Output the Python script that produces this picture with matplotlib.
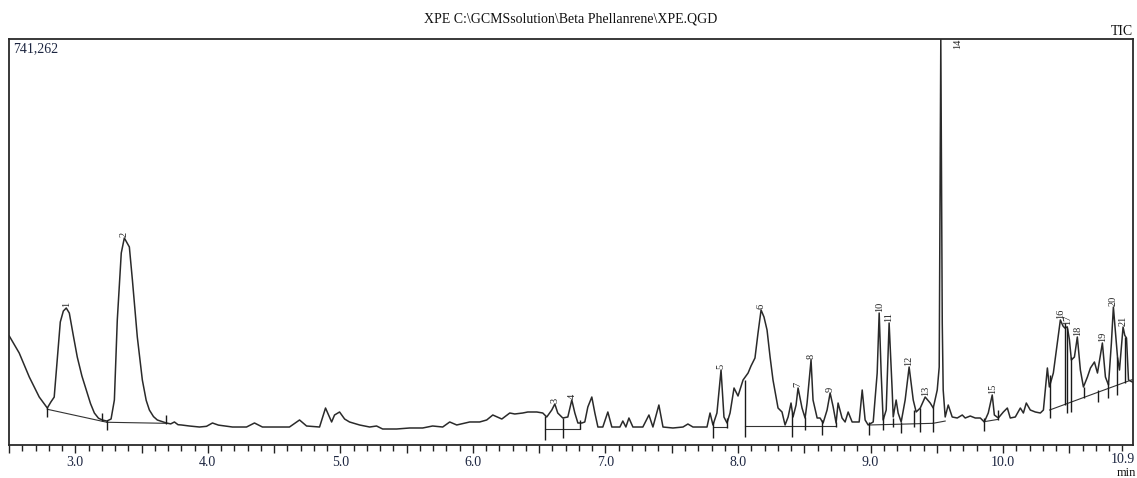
import matplotlib
matplotlib.use("Agg")
import matplotlib.pyplot as plt
from matplotlib.ticker import FixedLocator, FixedFormatter, MultipleLocator
import matplotlib.transforms as mtransforms

# ---------------- data ----------------
title_text = "XPE C:\\GCMSsolution\\Beta Phellanrene\\XPE.QGD"
full_scale = "741,262"

rt_min = [
    2.502, 2.577, 2.653, 2.728, 2.789, 2.816, 2.841, 2.864, 2.887, 2.910, 2.932, 2.955,
    2.985, 3.015, 3.050, 3.083, 3.115, 3.144, 3.175, 3.204, 3.238, 3.270, 3.295, 3.317,
    3.347, 3.370, 3.395, 3.408, 3.431, 3.468, 3.506, 3.535, 3.559, 3.590, 3.619, 3.687,
    3.720, 3.748, 3.775, 3.801, 3.861, 3.937, 3.990, 4.035, 4.080, 4.186, 4.292, 4.352,
    4.412, 4.541, 4.616, 4.692, 4.745, 4.843, 4.888, 4.934, 4.956, 4.994, 5.032, 5.069,
    5.145, 5.221, 5.273, 5.319, 5.424, 5.523, 5.621, 5.696, 5.772, 5.825, 5.878, 5.976,
    6.051, 6.104, 6.150, 6.218, 6.278, 6.316, 6.376, 6.414, 6.482, 6.527, 6.557, 6.595,
    6.618, 6.640, 6.678, 6.716, 6.746, 6.769, 6.792, 6.822, 6.844, 6.867, 6.897, 6.920,
    6.943, 6.980, 7.018, 7.048, 7.109, 7.131, 7.154, 7.177, 7.207, 7.282, 7.328, 7.358,
    7.403, 7.434, 7.509, 7.585, 7.622, 7.660, 7.766, 7.789, 7.811, 7.841, 7.872, 7.894,
    7.917, 7.940, 7.970, 8.000, 8.038, 8.076, 8.098, 8.128, 8.151, 8.174, 8.196, 8.219,
    8.242, 8.264, 8.302, 8.332, 8.355, 8.378, 8.400, 8.415, 8.438, 8.453, 8.483, 8.506,
    8.521, 8.551, 8.566, 8.597, 8.619, 8.642, 8.672, 8.695, 8.718, 8.740, 8.755, 8.785,
    8.808, 8.831, 8.861, 8.914, 8.937, 8.959, 8.982, 9.020, 9.050, 9.065, 9.080, 9.095,
    9.118, 9.140, 9.163, 9.171, 9.193, 9.208, 9.231, 9.261, 9.291, 9.322, 9.344, 9.375,
    9.412, 9.450, 9.473, 9.503, 9.518, 9.530, 9.541, 9.548, 9.563, 9.586, 9.616, 9.654,
    9.692, 9.714, 9.752, 9.790, 9.828, 9.858, 9.888, 9.918, 9.934, 9.964, 10.002, 10.032,
    10.054, 10.092, 10.130, 10.153, 10.175, 10.205, 10.243, 10.281, 10.304, 10.334, 10.349, 10.379,
    10.409, 10.432, 10.452, 10.466, 10.484, 10.500, 10.515, 10.538, 10.560, 10.583, 10.606, 10.636,
    10.659, 10.689, 10.712, 10.749, 10.772, 10.795, 10.817, 10.832, 10.863, 10.878, 10.905, 10.918,
    10.931, 10.946, 10.976,
]
rel_intensity = [  # % of full scale (741,262 counts)
    26.85, 22.66, 16.75, 11.82, 9.11, 10.60, 11.80, 20.90, 30.30, 33.00, 33.74, 32.50,
    27.00, 21.67, 17.00, 13.55, 10.20, 7.88, 6.60, 6.16, 5.90, 6.40, 11.08, 30.79,
    47.29, 50.99, 49.50, 48.77, 40.64, 26.60, 16.01, 11.00, 8.62, 7.00, 6.16, 5.42,
    5.20, 5.67, 5.00, 4.93, 4.68, 4.43, 4.60, 5.42, 4.90, 4.43, 4.43, 5.42,
    4.43, 4.43, 4.43, 6.16, 4.68, 4.43, 9.11, 5.67, 7.39, 8.13, 6.40, 5.67,
    4.93, 4.43, 4.68, 3.94, 3.94, 4.19, 4.19, 4.68, 4.43, 5.67, 4.93, 5.67,
    5.67, 6.16, 7.39, 6.40, 7.88, 7.64, 7.88, 8.13, 8.13, 7.88, 6.90, 8.62,
    10.10, 7.88, 6.65, 6.90, 11.08, 7.88, 5.42, 5.42, 5.67, 9.36, 11.82, 7.88,
    4.43, 4.43, 8.13, 4.43, 4.43, 5.91, 4.43, 6.65, 4.43, 4.43, 7.39, 4.43,
    9.85, 4.43, 4.19, 4.43, 5.17, 4.43, 4.43, 7.88, 4.93, 7.88, 18.47, 6.90,
    5.42, 7.88, 14.04, 12.07, 16.01, 17.73, 19.46, 21.43, 27.59, 33.25, 31.53, 28.33,
    21.67, 16.01, 9.11, 8.13, 4.93, 6.90, 10.34, 6.90, 9.85, 14.04, 9.11, 6.65,
    10.34, 20.94, 11.08, 6.65, 6.65, 5.42, 8.62, 12.81, 9.36, 5.42, 10.34, 6.65,
    5.67, 8.13, 5.67, 5.67, 13.55, 6.16, 4.93, 5.67, 17.73, 32.51, 17.73, 6.16,
    8.62, 30.05, 13.55, 6.90, 11.08, 7.88, 5.67, 11.08, 19.21, 11.08, 8.13, 9.11,
    11.82, 10.34, 9.11, 13.55, 19.21, 100.0, 30.00, 13.55, 6.90, 9.85, 6.90, 6.65,
    7.39, 6.65, 7.14, 6.65, 6.65, 5.67, 7.88, 12.32, 7.39, 6.65, 8.13, 9.11,
    6.65, 6.90, 9.11, 7.88, 10.34, 8.62, 8.13, 7.88, 8.62, 18.97, 14.29, 17.73,
    25.12, 30.79, 29.30, 28.80, 29.10, 26.00, 20.94, 21.67, 26.60, 18.47, 14.29, 16.75,
    18.97, 20.44, 17.73, 25.12, 16.75, 14.78, 25.12, 33.99, 21.67, 18.47, 29.06, 27.00,
    26.35, 16.01, 15.50,
]

peak_ids = ["1", "2", "3", "4", "5", "6", "7", "8", "9", "10", "11",
            "12", "13", "14", "15", "16", "17", "18", "19", "20", "21"]
peak_rt = [2.932, 3.370, 6.618, 6.746, 7.872, 8.174, 8.453, 8.551, 8.695, 9.065, 9.140,
           9.291, 9.412, 9.530, 9.918, 10.432, 10.484, 10.560, 10.749, 10.832, 10.908]
peak_top = [33.74, 50.99, 10.10, 11.08, 18.47, 33.25, 14.04, 20.94, 12.81, 32.51, 30.05,
            19.21, 11.82, 100.0, 12.32, 30.79, 29.10, 26.60, 25.12, 33.99, 29.06]

# integration baselines: start rt, start %, end rt, end %
base_t0 = [2.789, 3.238, 6.542, 6.681, 7.811, 8.053, 8.355, 8.992, 9.471, 9.858, 10.351]
base_i0 = [8.80, 5.60, 3.94, 3.94, 4.43, 4.68, 4.56, 4.93, 5.34, 5.75, 8.62]
base_t1 = [3.238, 3.687, 6.681, 6.807, 7.917, 8.355, 8.740, 9.471, 9.563, 9.964, 10.981]
base_i1 = [5.60, 5.34, 3.94, 3.94, 4.43, 4.68, 4.56, 5.34, 5.90, 6.32, 16.18]

# peak start / end / drop marks: rt, low %, high %
mark_rt = [2.789, 3.204, 3.238, 3.687, 6.542, 6.681, 6.807, 7.811, 7.917, 8.053,
           8.410, 8.506, 8.632, 8.740, 8.992, 9.093, 9.173, 9.231, 9.329, 9.375,
           9.471, 9.858, 9.964, 10.351, 10.465, 10.483, 10.513, 10.608, 10.714, 10.793,
           10.861, 10.918]
mark_lo = [6.90, 5.90, 3.69, 5.17, 1.23, 1.70, 4.00, 1.72, 4.19, 1.97,
           2.00, 3.69, 2.46, 4.50, 2.46, 3.69, 4.40, 2.87, 4.50, 3.28,
           3.28, 3.53, 6.16, 6.57, 9.85, 7.90, 8.20, 11.50, 10.70, 11.60,
           12.30, 15.20]
mark_hi = [9.43, 8.00, 6.16, 7.39, 7.10, 6.65, 6.20, 5.67, 6.65, 16.00,
           7.88, 6.97, 6.16, 5.75, 5.75, 6.97, 6.57, 5.75, 8.62, 9.03,
           9.43, 6.57, 8.62, 17.24, 30.00, 28.80, 21.70, 14.40, 13.50, 15.30,
           21.70, 26.70]

tick_rt = [2.5, 3.0, 3.5, 4.0, 4.5, 5.0, 5.5, 6.0, 6.5, 7.0, 7.5, 8.0, 8.5, 9.0, 9.5, 10.0, 10.5]
tick_text = ["", "3.0", "", "4.0", "", "5.0", "", "6.0", "", "7.0", "", "8.0", "", "9.0", "", "10.0", ""]
end_rt = 10.9
end_text = "10.9"

# ---------------- figure ----------------
W, H = 1137, 478
plt.rcParams["font.family"] = ["Liberation Serif", "DejaVu Serif"]
fig = plt.figure(figsize=(W / 100, H / 100), dpi=100)
ax = fig.add_axes([9 / W, 33 / H, 1124 / W, 406 / H])

line_col = "#2a2a2a"
ax.plot(rt_min, rel_intensity, color=line_col, lw=1.1, solid_joinstyle="round")

for t0, i0, t1, i1 in zip(base_t0, base_i0, base_t1, base_i1):
    ax.plot([t0, t1], [i0, i1], color="#333333", lw=0.8)
ax.vlines(mark_rt, mark_lo, mark_hi, color="#1a1a1a", lw=1.0)

for pid, rt, top in zip(peak_ids, peak_rt, peak_top):
    if top >= 99:
        ax.annotate(pid, (rt, top), xytext=(12, 0), textcoords="offset points",
                    rotation=90, ha="center", va="top", fontsize=7.5, color="#222222")
    else:
        ax.annotate(pid, (rt, top), xytext=(0, 1), textcoords="offset points",
                    rotation=90, ha="center", va="bottom", fontsize=7.5, color="#222222")

ax.set_xlim(2.5, 10.98)
ax.set_ylim(0, 100)
ax.set_yticks([])

ax.xaxis.set_major_locator(FixedLocator(tick_rt))
ax.xaxis.set_major_formatter(FixedFormatter(tick_text))
ax.xaxis.set_minor_locator(MultipleLocator(0.1))
ax.tick_params(axis="x", which="major", direction="out", length=6, width=1.0,
               pad=2, labelsize=10, labelcolor="#1c2540", color="#222222")
ax.tick_params(axis="x", which="minor", direction="out", length=4, width=1.0, color="#222222")

trans = mtransforms.blended_transform_factory(ax.transData, ax.transAxes)
ax.text(end_rt, -0.020, end_text, transform=trans, ha="center", va="top",
        fontsize=10, color="#1c2540")

for s in ax.spines.values():
    s.set_linewidth(1.3)
    s.set_color("#2a2a2a")

ax.text(0.0036, 0.992, full_scale, transform=ax.transAxes, ha="left", va="top",
        fontsize=10, color="#1c2540")
fig.text(571 / W, 1 - 19 / H, title_text, ha="center", va="center", fontsize=10, color="#111111")
fig.text(1133 / W, 1 - 38 / H, "TIC", ha="right", va="bottom", fontsize=10, color="#111111")
fig.text(1136 / W, 1 - 479 / H, "min", ha="right", va="bottom", fontsize=9, color="#111111")

fig.savefig("out.png", dpi=100)
